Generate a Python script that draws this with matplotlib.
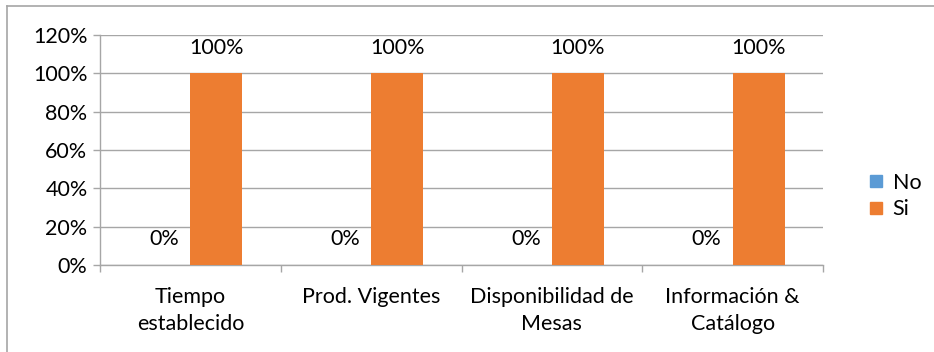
import numpy as np
import matplotlib.pyplot as plt
from matplotlib.lines import Line2D

plt.rcParams['font.family'] = ['Lato', 'DejaVu Sans']

categorias = ['Tiempo\nestablecido', 'Prod. Vigentes', 'Disponibilidad de\nMesas', 'Información &\nCatálogo']
no_vals = [0, 0, 0, 0]
si_vals = [100, 100, 100, 100]
series = ['No', 'Si']
colores = ['#5B9BD5', '#ED7D31']
fs = 15.5

fig = plt.figure(figsize=(9.34, 3.52), dpi=100)
ax = fig.add_axes([100 / 934, (352 - 265) / 352, 723 / 934, 230 / 352])

x = np.arange(len(categorias))
w = 0.288
b1 = ax.bar(x - w / 2, no_vals, w, color=colores[0], label=series[0], zorder=3)
b2 = ax.bar(x + w / 2, si_vals, w, color=colores[1], label=series[1], zorder=3)

for bars, vals in [(b1, no_vals), (b2, si_vals)]:
    for r, v in zip(bars, vals):
        ax.annotate(f'{v}%', (r.get_x() + r.get_width() / 2, v), xytext=(0, 18.5),
                    textcoords='offset points', ha='center', va='center', fontsize=fs)

ax.set_xlim(-0.5, len(categorias) - 0.5)
ax.set_ylim(0, 120)
ax.set_yticks(range(0, 121, 20))
ax.set_yticklabels([f'{t}%' for t in range(0, 121, 20)], fontsize=fs)
ax.yaxis.grid(True, color='#A6A6A6', linewidth=1, zorder=0)

ax.set_xticks(x)
ax.set_xticklabels(categorias, fontsize=fs, linespacing=1.45)
ax.tick_params(axis='x', length=0, pad=16)
ax.set_xticks(np.arange(-0.5, len(categorias)), minor=True)
ax.tick_params(axis='x', which='minor', length=5, color='#A6A6A6', width=1)
ax.tick_params(axis='y', length=5, color='#A6A6A6', width=1, pad=4)

for s in ['top', 'right']:
    ax.spines[s].set_visible(False)
for s in ['left', 'bottom']:
    ax.spines[s].set_color('#A6A6A6')
    ax.spines[s].set_linewidth(1)

handles = [Line2D([], [], marker='s', linestyle='', markersize=8, color=c) for c in colores]
fig.legend(handles, series, loc='center left', bbox_to_anchor=(856 / 934, 1 - 196 / 352),
           frameon=False, fontsize=fs, handlelength=0.9, handletextpad=0.3,
           labelspacing=0.3, borderpad=0)

# marco exterior del gráfico
fig.add_artist(Line2D([7 / 934, 7 / 934], [0, 1 - 6 / 352], transform=fig.transFigure,
                      color='#A6A6A6', linewidth=1.2))
fig.add_artist(Line2D([7 / 934, 1], [1 - 6 / 352, 1 - 6 / 352], transform=fig.transFigure,
                      color='#A6A6A6', linewidth=1.2))

fig.savefig('out.png', dpi=100)
